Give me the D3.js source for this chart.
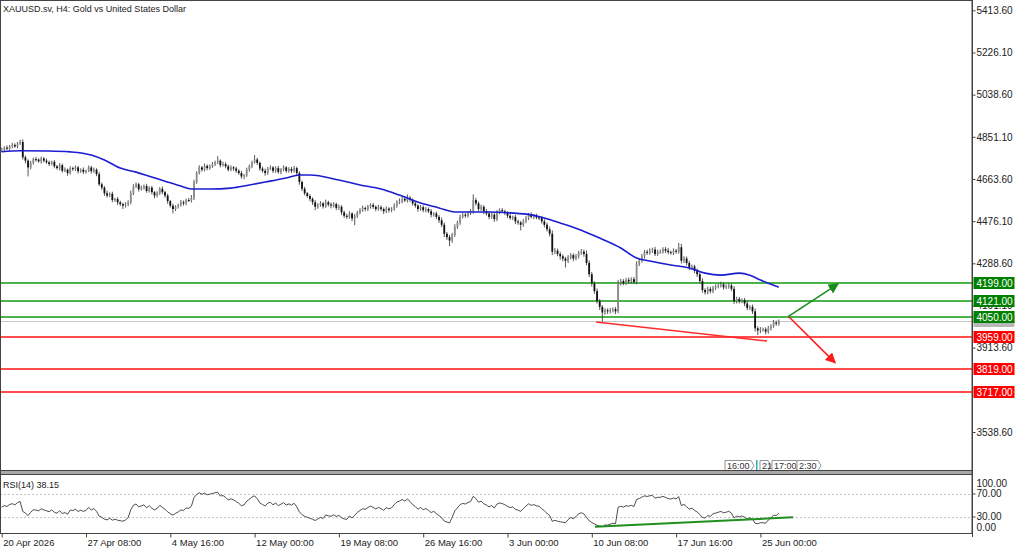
<!DOCTYPE html>
<html>
<head>
<meta charset="utf-8">
<script src="https://cdn.jsdelivr.net/npm/d3@7"></script>
<style>
  body { margin: 0; background: #fff; }
  svg { display: block; font-family: "Liberation Sans", Arial, sans-serif; }
</style>
</head>
<body>
<svg id="chart" width="1024" height="551"></svg>
<script>
const title = "XAUUSD.sv, H4:  Gold vs United States Dollar";
const rsiTitle = "RSI(14) 38.15";

// closes before the first visible bar (only used to warm up the RSI)
const preCloses = [4810, 4790, 4805, 4780, 4770, 4790, 4800, 4785, 4775, 4795, 4805, 4790, 4780, 4800, 4790];

// H4 closes, 20 Apr 2026 00:00 onwards
const closes = [
  4795, 4803, 4798, 4810, 4815, 4808, 4822, 4828, 4760, 4745,
  4715, 4735, 4752, 4750, 4742, 4755, 4745, 4738, 4730, 4740,
  4720, 4712, 4725, 4700, 4705, 4690, 4712, 4708, 4715, 4698,
  4705, 4695, 4700, 4715, 4698, 4705, 4685, 4640, 4625, 4600,
  4590, 4598, 4570, 4575, 4560, 4552, 4545, 4550, 4560, 4600,
  4630, 4640, 4618, 4625, 4632, 4610, 4625, 4605, 4590, 4600,
  4620, 4605, 4590, 4565, 4545, 4530, 4540, 4548, 4560, 4555,
  4570, 4568, 4580, 4650, 4690, 4715, 4705, 4722, 4712, 4720,
  4730, 4738, 4745, 4725, 4730, 4720, 4705, 4715, 4710, 4700,
  4690, 4675, 4680, 4705, 4720, 4738, 4750, 4735, 4710, 4700,
  4690, 4710, 4715, 4700, 4712, 4695, 4705, 4715, 4700, 4708,
  4700, 4712, 4690, 4650, 4620, 4600, 4588, 4575, 4560, 4540,
  4548, 4555, 4542, 4560, 4550, 4545, 4552, 4535, 4540, 4515,
  4500, 4495, 4510, 4488, 4500, 4515, 4525, 4535, 4530, 4540,
  4548, 4540, 4530, 4538, 4530, 4520, 4532, 4525, 4530, 4545,
  4560, 4565, 4575, 4568, 4580, 4570, 4555, 4545, 4530, 4538,
  4525, 4530, 4520, 4505, 4510, 4495, 4480, 4460, 4420, 4405,
  4390, 4415, 4450, 4470, 4495, 4505, 4500, 4512, 4520, 4570,
  4555, 4530, 4540, 4520, 4510, 4495, 4505, 4485, 4515, 4525,
  4520, 4512, 4500, 4490, 4495, 4475, 4470, 4460, 4475, 4490,
  4505, 4495, 4500, 4492, 4490, 4475, 4460, 4440, 4420, 4340,
  4345, 4330, 4320, 4310, 4300, 4315, 4325, 4310, 4320, 4335,
  4340, 4330, 4290, 4240, 4200, 4165, 4120, 4095, 4070, 4080,
  4075, 4080, 4085, 4075, 4200, 4210, 4200, 4215, 4208, 4218,
  4205, 4285, 4300, 4320, 4340, 4335, 4345, 4350, 4330, 4340,
  4340, 4352, 4345, 4338, 4335, 4345, 4340, 4360, 4300, 4310,
  4290, 4270, 4275, 4255, 4240, 4210, 4170, 4160, 4175, 4165,
  4180, 4185, 4190, 4195, 4182, 4185, 4190, 4175, 4120, 4130,
  4120, 4125, 4110, 4090, 4095, 4075, 4000, 3990, 3995, 3995,
  3985, 4000, 4010, 4025, 4020, 4032
];

// upper / lower shadow beyond the body, in dollars
const wickUp = [
  8, 6, 10, 5, 9, 7, 6, 10, 12, 8,   6, 9, 7, 10, 5, 8, 6, 9, 7, 5,
  8, 6, 9, 7, 10, 5, 8, 6, 9, 7,     6, 10, 5, 8, 7, 9, 6, 10, 8, 7,
  12, 6, 9, 5, 8, 7, 6, 10, 9, 12,   10, 8, 6, 9, 7, 10, 6, 8, 5, 9,
  7, 10, 6, 8, 5, 9, 7, 6, 10, 8,    6, 9, 12, 10, 8, 9, 7, 10, 6, 8,
  9, 7, 20, 6, 10, 8, 7, 9, 6, 8,    7, 10, 6, 9, 8, 7, 20, 8, 6, 9,
  10, 7, 9, 6, 8, 10, 7, 9, 6, 8,    9, 10, 6, 8, 7, 9, 6, 8, 7, 10,
  8, 10, 6, 12, 7, 9, 8, 6, 10, 7,   8, 9, 10, 6, 8, 7, 9, 10, 6, 8,
  7, 9, 6, 10, 8, 7, 9, 6, 8, 10,    9, 12, 8, 10, 15, 8, 7, 9, 6, 10,
  8, 9, 7, 10, 6, 8, 9, 12, 10, 8,   10, 9, 12, 8, 10, 9, 7, 8, 10, 25,
  10, 8, 9, 7, 10, 8, 9, 7, 10, 8,   9, 7, 8, 10, 6, 9, 8, 7, 10, 9,
  8, 10, 7, 9, 6, 8, 10, 9, 12, 15,  12, 9, 10, 8, 7, 10, 9, 8, 10, 9,
  12, 10, 15, 12, 10, 9, 12, 10, 8, 9, 8, 10, 7, 9, 15, 10, 8, 9, 10, 8,
  10, 12, 9, 10, 8, 9, 10, 8, 12, 9, 10, 8, 9, 12, 7, 10, 8, 20, 15, 10,
  9, 10, 8, 7, 10, 9, 12, 8, 10, 9,  8, 10, 9, 12, 8, 10, 9, 8, 12, 10,
  9, 8, 10, 12, 8, 10, 12, 9, 10, 8, 9, 10, 8, 12, 9, 7
];
const wickDn = [
  7, 9, 6, 8, 10, 6, 8, 7, 10, 12,   40, 8, 7, 9, 6, 10, 8, 7, 9, 6,
  9, 7, 10, 8, 6, 12, 7, 9, 8, 10,   7, 9, 8, 6, 10, 7, 9, 8, 10, 12,
  9, 7, 10, 8, 12, 9, 15, 8, 7, 9,   8, 7, 10, 6, 9, 8, 7, 10, 12, 8,
  7, 9, 10, 12, 8, 20, 9, 8, 7, 10,  8, 7, 9, 10, 8, 6, 9, 7, 10, 8,
  7, 9, 8, 10, 6, 9, 8, 7, 10, 9,    8, 10, 12, 7, 9, 8, 6, 9, 10, 8,
  12, 8, 7, 10, 9, 8, 10, 7, 9, 8,   10, 7, 9, 12, 10, 9, 8, 10, 12, 15,
  9, 8, 10, 7, 9, 12, 8, 10, 9, 12,  10, 9, 8, 12, 30, 9, 8, 7, 10, 9,
  8, 9, 10, 7, 9, 12, 8, 10, 9, 7,   9, 8, 10, 7, 9, 8, 10, 9, 12, 8,
  9, 10, 8, 12, 9, 10, 12, 10, 15, 12, 25, 10, 9, 8, 10, 7, 9, 8, 9, 10,
  9, 10, 8, 12, 9, 10, 8, 12, 9, 8,  8, 9, 10, 8, 9, 12, 10, 25, 9, 8,
  9, 8, 10, 7, 9, 10, 12, 10, 12, 15, 12, 10, 15, 12, 30, 10, 9, 12, 8, 10,
  9, 12, 10, 12, 15, 12, 10, 14, 40, 10, 12, 9, 10, 12, 8, 10, 9, 8, 10, 9,
  8, 10, 9, 8, 10, 9, 8, 10, 9, 8,   9, 8, 10, 9, 8, 10, 9, 8, 12, 10,
  10, 12, 9, 10, 12, 10, 12, 10, 9, 10, 9, 10, 8, 9, 10, 8, 9, 10, 12, 10,
  10, 9, 12, 10, 9, 12, 15, 20, 12, 10, 12, 9, 10, 8, 9, 8
];

// moving average (bar index, price)
const maIdx = [0, 7, 18, 26, 34, 39, 45, 51, 56, 62, 68, 72, 79, 87, 94, 100, 108, 113, 117, 128,
  136, 144, 151, 159, 166, 172, 178, 185, 193, 201, 206, 212, 220, 227, 235, 241, 246, 254, 261,
  267, 273, 280, 284, 288, 292, 295];
const maVal = [4785, 4789, 4788, 4784, 4770, 4748, 4712, 4694, 4676, 4654, 4632, 4619, 4619, 4623, 4637, 4650, 4668, 4681, 4681, 4659,
  4637, 4619, 4592, 4557, 4535, 4517, 4517, 4517, 4513, 4504, 4490, 4468, 4436, 4401, 4357, 4312, 4299, 4281, 4268,
  4245, 4236, 4245, 4236, 4214, 4196, 4183];

const priceTicks = [5413.6, 5226.1, 5038.6, 4851.1, 4663.6, 4476.1, 4288.6, 4101.1, 3913.6, 3538.6];
const timeTickIdx = [0, 32, 64, 96, 128, 160, 192, 224, 256, 288];
const timeTickLabels = ["20 Apr 2026", "27 Apr 08:00", "4 May 16:00", "12 May 00:00", "19 May 08:00",
  "26 May 16:00", "3 Jun 00:00", "10 Jun 08:00", "17 Jun 16:00", "25 Jun 00:00"];

const greenLevels = [4199, 4121, 4050];
const redLevels = [3959, 3819, 3717];
const bidPrice = 4032.4;
const rsiLevels = [70, 30];
const rsiAxis = [100, 70, 30, 0];

const priceTrend = [[225.6, 4028], [290.5, 3943]];
const rsiTrend = [[225.2, 12.3], [300.4, 28.6]];
const arrowUp = [[298.5, 4052], [317.5, 4197]];
const arrowDown = [[298.9, 4050], [316.4, 3846]];

// time-scale flags of the drawn objects
const flagText = ["16:00", "21", "17:00", "2:30"];
const flagX = [725, 760, 772, 797];
const flagW = [29, 11, 27, 24];

const svg = d3.select("svg#chart");
const W = 972;

const x = d3.scaleLinear().domain([0, 288]).range([1.7, 760.4]);
const y = d3.scaleLinear().domain([3538.6, 5413.6]).range([432, 10.3]);
const yR = d3.scaleLinear().domain([0, 100]).range([533.75, 476.25]);

// build candles
const candles = closes.map((c, i) => {
  const o = i === 0 ? preCloses[preCloses.length - 1] : closes[i - 1];
  return { i, o, c, h: Math.max(o, c) + wickUp[i], l: Math.min(o, c) - wickDn[i] };
});

// RSI(14), Wilder smoothing
const all = preCloses.concat(closes);
const rsi = [];
let ag = 0, al = 0;
for (let j = 1; j < all.length; j++) {
  const d = all[j] - all[j - 1];
  const g = Math.max(d, 0), l = Math.max(-d, 0);
  if (j <= 14) {
    ag += g / 14; al += l / 14;
  } else {
    ag = (ag * 13 + g) / 14; al = (al * 13 + l) / 14;
  }
  if (j >= 14) {
    const idx = j - preCloses.length;
    if (idx >= 0) rsi.push({ i: idx, v: al === 0 ? 100 : 100 - 100 / (1 + ag / al) });
  }
}

svg.append("defs").html(`
  <clipPath id="mainClip"><rect x="1" y="1" width="${W - 1}" height="469"></rect></clipPath>
  <clipPath id="rsiClip"><rect x="1" y="475" width="${W - 1}" height="58"></rect></clipPath>
  <marker id="arrG" viewBox="0 0 10 10" refX="9" refY="5" markerWidth="7" markerHeight="7" orient="auto">
    <path d="M0,0L10,5L0,10z" fill="#1a8c1a"></path></marker>
  <marker id="arrR" viewBox="0 0 10 10" refX="9" refY="5" markerWidth="7" markerHeight="7" orient="auto">
    <path d="M0,0L10,5L0,10z" fill="#ff1a1a"></path></marker>
`);

// ---- main panel ----
const main = svg.append("g").attr("clip-path", "url(#mainClip)");

main.append("line")
  .attr("x1", 0).attr("x2", W).attr("y1", Math.round(y(bidPrice)) + 0.5).attr("y2", Math.round(y(bidPrice)) + 0.5)
  .attr("stroke", "#c8c8c8").attr("stroke-width", 1);

main.selectAll("line.green").data(greenLevels).join("line")
  .attr("class", "green")
  .attr("x1", 0).attr("x2", W)
  .attr("y1", d => Math.round(y(d))).attr("y2", d => Math.round(y(d)))
  .attr("stroke", "#119911").attr("stroke-width", 1.6);

main.selectAll("line.red").data(redLevels).join("line")
  .attr("class", "red")
  .attr("x1", 0).attr("x2", W)
  .attr("y1", d => Math.round(y(d))).attr("y2", d => Math.round(y(d)))
  .attr("stroke", "#ff1010").attr("stroke-width", 1.6);

const cg = main.append("g");
cg.selectAll("line").data(candles).join("line")
  .attr("x1", d => x(d.i)).attr("x2", d => x(d.i))
  .attr("y1", d => y(d.h)).attr("y2", d => y(d.l))
  .attr("stroke", "#444").attr("stroke-width", 0.9);
cg.selectAll("rect").data(candles).join("rect")
  .attr("x", d => x(d.i) - 0.9).attr("width", 1.8)
  .attr("y", d => y(Math.max(d.o, d.c)))
  .attr("height", d => Math.max(1, Math.abs(y(d.o) - y(d.c))))
  .attr("fill", d => d.c >= d.o ? "#8c8c8c" : "#111");

const maPts = maIdx.map((d, k) => [d, maVal[k]]);
main.append("path")
  .attr("d", d3.line().x(d => x(d[0])).y(d => y(d[1])).curve(d3.curveMonotoneX)(maPts))
  .attr("fill", "none").attr("stroke", "#1c1cd2").attr("stroke-width", 1.6);

main.append("path")
  .attr("d", d3.line().x(d => x(d[0])).y(d => y(d[1]))(priceTrend))
  .attr("stroke", "#ff2a2a").attr("stroke-width", 1.5).attr("fill", "none");

main.append("path")
  .attr("d", d3.line().x(d => x(d[0])).y(d => y(d[1]))(arrowUp))
  .attr("stroke", "#1a8c1a").attr("stroke-width", 1.5).attr("fill", "none")
  .attr("marker-end", "url(#arrG)");
main.append("path")
  .attr("d", d3.line().x(d => x(d[0])).y(d => y(d[1]))(arrowDown))
  .attr("stroke", "#ff1a1a").attr("stroke-width", 1.5).attr("fill", "none")
  .attr("marker-end", "url(#arrR)");

svg.append("text").attr("x", 3).attr("y", 12)
  .attr("font-size", 9).attr("fill", "#222").text(title);

// object time flags at the bottom of the main panel
const flags = svg.append("g");
flagText.forEach((t, k) => {
  const x0 = flagX[k], w = flagW[k];
  flags.append("path")
    .attr("d", `M${x0},460.5H${x0 + w - 3}L${x0 + w},465.5L${x0 + w - 3},470.5H${x0}Z`)
    .attr("fill", "#fff").attr("stroke", "#777").attr("stroke-width", 0.8);
  flags.append("text").attr("x", x0 + 2).attr("y", 469)
    .attr("font-size", 9).attr("fill", "#333").text(t);
});
flags.append("rect").attr("x", 756).attr("y", 460).attr("width", 1.5).attr("height", 11).attr("fill", "#30b0b0");

// ---- RSI panel ----
const sub = svg.append("g").attr("clip-path", "url(#rsiClip)");
sub.selectAll("line.lvl").data(rsiLevels).join("line")
  .attr("class", "lvl")
  .attr("x1", 0).attr("x2", W)
  .attr("y1", d => Math.round(yR(d)) + 0.5).attr("y2", d => Math.round(yR(d)) + 0.5)
  .attr("stroke", "#c4c4c4").attr("stroke-dasharray", "2,2");

sub.append("path")
  .attr("d", d3.line().x(d => x(d.i)).y(d => yR(d.v))(rsi))
  .attr("fill", "none").attr("stroke", "#3a3a3a").attr("stroke-width", 0.9);

sub.append("path")
  .attr("d", d3.line().x(d => x(d[0])).y(d => yR(d[1]))(rsiTrend))
  .attr("stroke", "#1f8f1f").attr("stroke-width", 2).attr("fill", "none");

svg.append("text").attr("x", 3).attr("y", 488)
  .attr("font-size", 9).attr("fill", "#222").text(rsiTitle);

// ---- frames ----
svg.append("rect").attr("x", 0.5).attr("y", 0.5).attr("width", W - 0.5).attr("height", 470)
  .attr("fill", "none").attr("stroke", "#444");
svg.append("rect").attr("x", 0.5).attr("y", 470.5).attr("width", W - 0.5).attr("height", 4)
  .attr("fill", "#a8a8a8").attr("stroke", "#444");
svg.append("rect").attr("x", 0.5).attr("y", 474.5).attr("width", W - 0.5).attr("height", 59)
  .attr("fill", "none").attr("stroke", "#444");

// ---- price axis ----
const axP = svg.append("g").attr("transform", `translate(${W + 0.5},0)`)
  .call(d3.axisRight(y).tickValues(priceTicks).tickSize(3).tickPadding(1).tickFormat(d => d.toFixed(2)));
axP.select(".domain").remove();
axP.selectAll("line").attr("stroke", "#444");
axP.selectAll("text").attr("font-size", 10).attr("fill", "#222");
svg.append("line").attr("x1", W + 0.5).attr("x2", W + 0.5).attr("y1", 0).attr("y2", 537)
  .attr("stroke", "#444");

// level labels on the price axis
function tag(price, color, withText) {
  const g = svg.append("g").attr("transform", `translate(${W + 1.5},${Math.round(y(price))})`);
  g.append("rect").attr("x", 0).attr("y", -6).attr("width", 41).attr("height", 12).attr("fill", color);
  if (withText) {
    g.append("text").attr("x", 3).attr("y", 3.8).attr("font-size", 10).attr("fill", "#fff")
      .text(price.toFixed(2));
  }
}
tag(bidPrice, "#b8b8b8", false);
greenLevels.forEach(p => tag(p, "#008000", true));
redLevels.forEach(p => tag(p, "#ff0000", true));

// ---- RSI axis ----
const axR = svg.append("g").attr("transform", `translate(${W + 0.5},0)`)
  .call(d3.axisRight(yR).tickValues(rsiAxis).tickSize(3).tickPadding(1).tickFormat(d => d.toFixed(2)));
axR.select(".domain").remove();
axR.selectAll("line").attr("stroke", d => (d === 100 || d === 0) ? "none" : "#444");
axR.selectAll("text").attr("font-size", 10).attr("fill", "#222")
  .attr("dy", d => d === 100 ? "1.05em" : d === 0 ? "-0.35em" : "0.32em");

// ---- time axis ----
const axT = svg.append("g").attr("transform", "translate(0,533.5)")
  .call(d3.axisBottom(x).tickValues(timeTickIdx).tickSize(4).tickPadding(2)
    .tickFormat((d, k) => timeTickLabels[k]));
axT.select(".domain").remove();
axT.selectAll("line").attr("stroke", "#444");
axT.selectAll("text").attr("text-anchor", "start").attr("dx", 1)
  .attr("font-size", 9.5).attr("fill", "#222");
</script>
</body>
</html>
